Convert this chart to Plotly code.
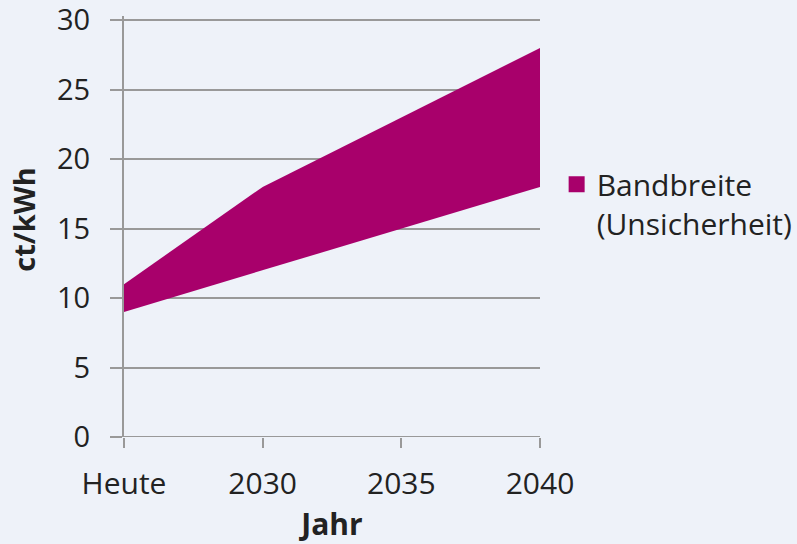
import plotly.graph_objects as go

categories = ["Heute", "2030", "2035", "2040"]
lower = [9, 12, 15, 18]
upper = [11, 18, 23, 28]
y_ticks = [0, 5, 10, 15, 20, 25, 30]

band_color = "#A8006B"
bg = "#EEF2F9"
grid = "#999999"
txt = "#222222"
font_family = "'Open Sans', sans-serif"

xpos = list(range(len(categories)))

fig = go.Figure()
fig.add_trace(go.Scatter(x=xpos, y=lower, mode="lines", line=dict(width=0, color=band_color),
                         showlegend=False, hoverinfo="skip"))
fig.add_trace(go.Scatter(x=xpos, y=upper, mode="lines", line=dict(width=0, color=band_color),
                         fill="tonexty", fillcolor=band_color, showlegend=False))
fig.add_trace(go.Scatter(x=[None], y=[None], mode="markers",
                         marker=dict(symbol="square", size=18, color=band_color),
                         name="Bandbreite<br>(Unsicherheit)", showlegend=True))

fig.update_layout(
    width=797, height=544,
    paper_bgcolor=bg, plot_bgcolor=bg,
    margin=dict(l=124, r=257, t=16, b=107, autoexpand=False),
    font=dict(family=font_family, size=29, color=txt),
    legend=dict(x=1.04, y=0.662, xanchor="left", yanchor="top", valign="top",
                font=dict(size=30, color=txt), bgcolor="rgba(0,0,0,0)",
                tracegroupgap=0),
    xaxis=dict(
        range=[0, 3], tickvals=xpos, ticktext=categories, automargin=False,
        showgrid=False, zeroline=False, showline=False,
        ticks="outside", ticklen=10, tickwidth=2, tickcolor=grid,
        ticklabelstandoff=10, ticklabeloverflow="allow",
        title=dict(text="<b>Jahr</b>", font=dict(size=30, color=txt), standoff=16),
        tickfont=dict(size=30, color=txt),
    ),
    yaxis=dict(
        range=[0, 30.3], tickvals=y_ticks, automargin=False,
        showgrid=True, gridcolor=grid, gridwidth=2,
        zeroline=False, showline=True, linecolor=grid, linewidth=2,
        ticks="outside", ticklen=12, tickwidth=2, tickcolor=grid,
        ticklabelstandoff=14, ticklabeloverflow="allow",
        tickfont=dict(size=29, color=txt),
    ),
    annotations=[dict(
        text="<b>ct/kWh</b>", textangle=-90, showarrow=False,
        xref="paper", yref="paper", x=-0.241, y=0.518,
        xanchor="center", yanchor="middle",
        font=dict(size=29, color=txt),
    )],
)
fig.add_hline(y=0, line=dict(color=grid, width=2))

fig.write_html("out.html", config={"displayModeBar": False},
               post_script="document.body.style.margin='0';document.body.style.background='" + bg + "';")
